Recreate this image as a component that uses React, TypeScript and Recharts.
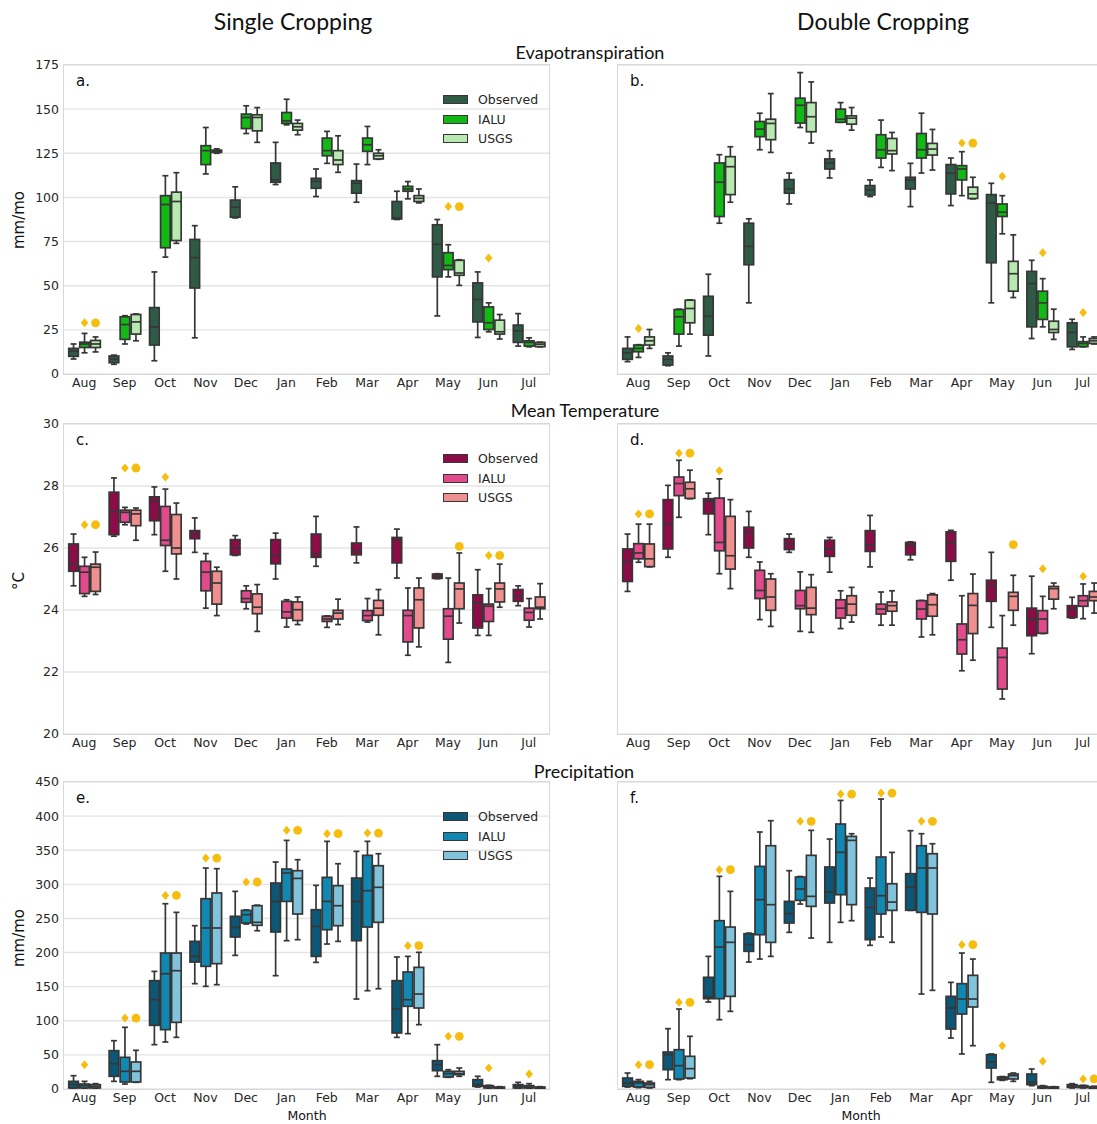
import React from "react";
import { ComposedChart, Bar, XAxis, YAxis, CartesianGrid, Legend } from "recharts";

// each box: [whisker low, q1, median, q3, whisker high]
type Box = [number, number, number, number, number];
type Mark = number | null;

const months = ["Aug", "Sep", "Oct", "Nov", "Dec", "Jan", "Feb", "Mar", "Apr", "May", "Jun", "Jul"];
const seriesNames = ["Observed", "IALU", "USGS"];

// Evapotranspiration (mm/mo), single cropping
const etSingleObs: Box[] = [
  [8.5, 10, 13, 14.5, 17], [5.5, 6.4, 8.3, 10.2, 10.7], [7.5, 16.4, 26.7, 37.6, 57.8],
  [20.5, 48.7, 65.9, 76.2, 84], [88.4, 88.8, 94.5, 98.5, 106], [107.3, 108.6, 110, 119.5, 131.2],
  [100.5, 105.2, 109.1, 110.8, 116.1], [97.3, 102.4, 108, 109.5, 118.9], [87.5, 87.8, 88.5, 97.7, 103.5],
  [32.9, 55, 73.4, 84.5, 87.5], [20.7, 29.5, 42.2, 51.6, 57.8], [15.8, 17.9, 24.5, 27.7, 34.2],
];
const etSingleIalu: Box[] = [
  [12, 15, 17, 18, 23], [17, 19.6, 28, 32.4, 33], [66.2, 71.5, 96, 101, 112.3],
  [113.3, 118.6, 126.5, 129.3, 139.6], [136.2, 139, 145.3, 147.2, 151.9], [141.1, 141.9, 143.4, 148.1, 155.6],
  [119.3, 123.6, 126.5, 133.6, 137.4], [118.6, 126.1, 129.8, 133.6, 140.2], [99.2, 103.5, 104.8, 106.3, 109],
  [55, 59.1, 61.5, 68.7, 73.2], [23.9, 25.2, 29, 38, 40.3], [15.4, 15.8, 17.9, 18.8, 20.5],
];
const etSingleUsgs: Box[] = [
  [12.5, 15, 17, 19, 21], [18.8, 22.6, 29.5, 33.7, 34], [74, 75.6, 97.7, 103, 114],
  [125, 125.5, 126, 126.8, 127.5], [131.2, 137.7, 145.3, 146.8, 150.9], [135.5, 138.1, 140, 141.9, 143.8],
  [114.2, 118.6, 121.2, 126.5, 134.9], [121.6, 121.8, 123.6, 125, 127], [96.9, 97.7, 99.5, 101, 104.8],
  [50.2, 55.9, 57.2, 64.4, 64.7], [19.8, 22.6, 23.9, 30.5, 33.7], [15.4, 15.5, 16.9, 17.9, 18],
];
const etSingleIaluMark: Mark[] = [29, null, null, null, null, null, null, null, null, 94.8, 65.7, null];
const etSingleUsgsMark: Mark[] = [29, null, null, null, null, null, null, null, null, 94.8, null, null];

// Evapotranspiration (mm/mo), double cropping
const etDoubleObs: Box[] = [
  [7, 8.3, 12, 14.5, 21], [4.7, 5.1, 8.3, 10.2, 12], [10.2, 22, 32.7, 44, 56.5],
  [40.3, 61.9, 72.3, 85.4, 87.9], [96.3, 102.4, 104.8, 110.1, 113.8], [111, 116.1, 119.5, 121.8, 126.5],
  [100.5, 101.4, 104.3, 106.7, 109.9], [94.8, 104.8, 109.9, 111.4, 119.3], [95.4, 102, 113.7, 118.6, 122.3],
  [40.3, 63, 96.9, 101.6, 108], [20.1, 26.7, 51.2, 58.1, 64.4], [13.9, 15.4, 23.5, 29, 31],
];
const etDoubleIalu: Box[] = [
  [9.4, 12.6, 14.5, 16.4, 16.6], [15.8, 22.6, 32.4, 36.5, 36.7], [85.4, 89.2, 108.6, 119.5, 124.2],
  [127, 134.4, 138.7, 143, 147.7], [139.6, 142.1, 152.2, 156.2, 170.7], [142.5, 142.6, 144.3, 150, 153.7],
  [117, 122.3, 127, 135.5, 143.8], [113.8, 122.3, 127, 136.2, 147.7], [101, 109.9, 116.1, 118, 125.9],
  [79.4, 89.2, 91.6, 96.3, 101], [26.7, 30.9, 40.3, 46.9, 54], [15.4, 15.5, 17.3, 18.3, 21],
];
const etDoubleUsgs: Box[] = [
  [14.5, 16.4, 18.8, 21, 25.2], [22.6, 29, 37.1, 41.8, 42], [97.3, 101.6, 117.4, 123.1, 128.7],
  [125.5, 132.7, 141.9, 144.3, 158.8], [130.8, 137.2, 145.7, 153.7, 165.4], [138.1, 141.5, 144.9, 146.2, 150.9],
  [115.2, 124.6, 126.5, 133.4, 136.8], [115.5, 124, 127.4, 130.6, 138.5], [99.2, 99.4, 102, 105.8, 111.4],
  [43.3, 46.9, 56.8, 63.8, 78.8], [19.6, 23.5, 25.2, 29.9, 36.7], [17, 17.3, 18.8, 20.1, 21],
];
const etDoubleIaluMark: Mark[] = [25.8, null, null, null, null, null, null, null, 130.8, 112, 68.7, 34.8];
const etDoubleUsgsMark: Mark[] = [null, null, null, null, null, null, null, null, 130.8, null, null, null];

// Mean temperature (°C), single cropping
const tempSingleObs: Box[] = [
  [24.78, 25.25, 25.49, 26.13, 26.45], [26.38, 26.43, 27.18, 27.8, 28.26], [26.43, 26.88, 27.53, 27.65, 27.97],
  [25.86, 26.3, 26.46, 26.56, 26.97], [25.76, 25.78, 26.0, 26.27, 26.4], [25.0, 25.49, 25.76, 26.27, 26.48],
  [25.41, 25.7, 25.81, 26.45, 27.02], [25.52, 25.78, 25.89, 26.16, 26.68], [25.03, 25.52, 26.27, 26.34, 26.61],
  [25.01, 25.02, 25.09, 25.16, 25.17], [23.18, 23.42, 24.23, 24.49, 25.3], [24.14, 24.28, 24.44, 24.66, 24.78],
];
const tempSingleIalu: Box[] = [
  [24.44, 24.53, 25.22, 25.41, 25.7], [26.75, 26.83, 27.15, 27.22, 27.31], [25.25, 26.08, 26.25, 27.34, 27.9],
  [24.06, 24.62, 25.22, 25.57, 25.82], [24.04, 24.25, 24.37, 24.62, 24.78], [23.45, 23.74, 23.94, 24.28, 24.33],
  [23.44, 23.63, 23.71, 23.8, 23.81], [23.61, 23.66, 23.82, 23.98, 24.37], [22.54, 22.97, 23.82, 23.99, 24.71],
  [22.31, 23.06, 23.8, 24.04, 25.03], [23.18, 23.63, 24.12, 24.19, 24.69], [23.45, 23.67, 23.92, 24.06, 24.37],
];
const tempSingleUsgs: Box[] = [
  [24.5, 24.6, 25.38, 25.48, 25.87], [26.25, 26.72, 27.1, 27.22, 27.29], [25.0, 25.81, 26.0, 27.08, 27.45],
  [23.82, 24.19, 24.87, 25.25, 25.38], [23.31, 23.88, 24.09, 24.52, 24.82], [23.53, 23.66, 24.01, 24.26, 24.42],
  [23.53, 23.71, 23.9, 23.99, 24.35], [23.2, 23.83, 24.06, 24.31, 24.66], [22.81, 23.42, 24.33, 24.71, 25.03],
  [23.58, 24.04, 24.68, 24.87, 25.84], [24.09, 24.26, 24.68, 24.87, 25.48], [23.71, 24.04, 24.09, 24.42, 24.85],
];
const tempSingleIaluMark: Mark[] = [26.75, 28.58, 28.29, null, null, null, null, null, null, null, 25.76, null];
const tempSingleUsgsMark: Mark[] = [26.75, 28.58, null, null, null, null, null, null, null, 26.05, 25.76, null];

// Mean temperature (°C), double cropping
const tempDoubleObs: Box[] = [
  [24.6, 24.92, 25.55, 25.97, 26.45], [25.7, 25.97, 26.77, 27.56, 28.02], [26.43, 27.1, 27.51, 27.59, 27.77],
  [25.7, 26.0, 26.51, 26.67, 27.18], [25.86, 25.95, 26.13, 26.3, 26.45], [25.22, 25.73, 25.97, 26.25, 26.34],
  [25.39, 25.89, 26.09, 26.56, 27.05], [25.62, 25.78, 26.08, 26.18, 26.2], [24.96, 25.57, 26.18, 26.52, 26.57],
  [23.44, 24.28, 24.78, 24.96, 25.86], [22.59, 23.17, 23.71, 24.06, 25.09], [23.74, 23.76, 24.01, 24.14, 24.41],
];
const tempDoubleIalu: Box[] = [
  [25.54, 25.65, 25.84, 26.14, 26.77], [26.99, 27.69, 28.08, 28.29, 28.83], [25.17, 25.91, 26.18, 27.61, 28.23],
  [23.69, 24.37, 24.63, 25.28, 25.55], [23.31, 24.04, 24.14, 24.63, 25.23], [23.4, 23.74, 24.06, 24.33, 24.62],
  [23.51, 23.87, 24.03, 24.19, 24.58], [23.13, 23.71, 24.03, 24.3, 24.31], [22.04, 22.58, 23.04, 23.55, 24.46],
  [21.13, 21.45, 22.47, 22.77, 23.82], [23.24, 23.25, 23.71, 23.98, 24.44], [23.72, 24.12, 24.3, 24.46, 24.84],
];
const tempDoubleUsgs: Box[] = [
  [25.39, 25.4, 25.65, 26.13, 26.77], [27.59, 27.6, 27.91, 28.12, 28.51], [24.69, 25.32, 25.75, 27.02, 27.56],
  [23.47, 23.99, 24.42, 25.0, 25.17], [23.28, 23.85, 24.06, 24.73, 25.14], [23.61, 23.83, 24.19, 24.46, 24.73],
  [23.51, 23.96, 24.14, 24.26, 24.62], [23.2, 23.8, 24.17, 24.49, 24.53], [22.38, 23.24, 24.15, 24.53, 25.16],
  [23.51, 23.99, 24.44, 24.57, 25.12], [24.04, 24.35, 24.69, 24.76, 24.87], [23.9, 24.3, 24.42, 24.6, 24.87],
];
const tempDoubleIaluMark: Mark[] = [27.1, 29.06, 28.49, null, null, null, null, null, null, null, 25.33, 25.09];
const tempDoubleUsgsMark: Mark[] = [27.1, 29.06, null, null, null, null, null, null, null, 26.11, null, null];

// Precipitation (mm/mo), single cropping
const precSingleObs: Box[] = [
  [0.5, 1.5, 6.4, 11.2, 19.5], [11.2, 18.6, 37.1, 56.2, 70.8], [65, 93.3, 130.9, 158.8, 172.4],
  [154.4, 186.1, 194.4, 216.4, 239.4], [195.9, 222.8, 236.9, 253.1, 289.7], [166.1, 230.1, 275, 301.9, 332.7],
  [185.6, 194.4, 238.4, 262.8, 298.5], [131.9, 217.4, 275, 309.2, 348.3], [75.7, 82.1, 117.7, 158.8, 193.5],
  [18.6, 26.9, 35.7, 41.5, 65], [2.9, 3.9, 6.4, 13.7, 18.6], [0.5, 1.5, 3.9, 6.4, 9.8],
];
const precSingleIalu: Box[] = [
  [0.5, 1.5, 4.9, 7.3, 11.2], [7.3, 10.3, 25.9, 46.4, 90.4], [68.9, 87, 169, 199.3, 271.6],
  [150.5, 179.8, 236, 278.9, 323.9], [241.8, 243.3, 255.5, 261.8, 262.5], [217.4, 275, 316.6, 322.4, 364.4],
  [212.5, 233.5, 275, 310.2, 363], [144.1, 237.4, 290.7, 342.5, 363], [81.1, 121.2, 130.9, 171.5, 194.4],
  [17.1, 17.6, 22.5, 25.9, 28.3], [0.8, 1.5, 2.9, 4.9, 5.4], [0.8, 1.5, 2.9, 4.9, 7.8],
];
const precSingleUsgs: Box[] = [
  [0.5, 1.5, 3.9, 6.4, 7.8], [9.8, 10.3, 25.9, 39.6, 56.7], [75.7, 97.7, 173.4, 199.3, 258.9],
  [152.9, 183.7, 236, 287.3, 322.9], [232, 239.9, 244.3, 268.7, 269.5], [218.9, 256.5, 308.7, 320, 336.1],
  [216.4, 239.4, 268.7, 298, 330.2], [147, 244.3, 295.6, 327.3, 344.9], [94.3, 118.7, 139.2, 178.3, 200.3],
  [18.6, 21, 22.5, 25.9, 30.8], [0.5, 1, 1.5, 2.9, 3.4], [0.5, 1, 2, 2.9, 3.4],
];
const precSingleIaluMark: Mark[] = [35.7, 104, 283.8, 338.5, 303.4, 379.1, 374.2, 375.2, 210, 77.2, 30.8, 22];
const precSingleUsgsMark: Mark[] = [null, 104, 283.8, 338.5, 303.4, 379.1, 374.2, 375.2, 210, 77.2, null, null];

// Precipitation (mm/mo), double cropping
const precDoubleObs: Box[] = [
  [2.9, 3.9, 8.8, 16.1, 23.4], [13.7, 28.3, 50.3, 54.2, 88.4], [127.5, 132.4, 134.8, 163.7, 194.4],
  [186.1, 201.8, 211.5, 227.6, 228.5], [229.6, 243.3, 257, 275, 320], [215, 272.6, 288.7, 325.4, 366.4],
  [210.6, 218.9, 266.2, 294.6, 309.2], [261.8, 262, 296, 315.6, 378.6], [74.7, 87.9, 118.7, 135.8, 156.3],
  [9.8, 30.8, 39.6, 50.3, 51.3], [4.9, 6.4, 9.8, 22, 29.3], [1.5, 2.4, 4.9, 6.4, 7.8],
];
const precDoubleIalu: Box[] = [
  [2, 2.9, 8.8, 11.2, 13.7], [13.7, 14.7, 34.2, 57.6, 117.2], [101.6, 132.4, 208.1, 246.7, 311.7],
  [190.5, 226.2, 277.5, 326.3, 376.7], [271.1, 276.5, 293.1, 310.7, 311.5], [244.3, 284.8, 346.9, 388.4, 423],
  [222.8, 256.5, 283.3, 340, 425], [139.2, 258.9, 323.9, 356.6, 374.2], [51.3, 109.9, 131.9, 154.4, 199.3],
  [12.7, 13.7, 16.1, 17.6, 18.2], [1, 1.5, 2.4, 3.9, 4.9], [1.5, 2, 2.9, 4.9, 5.4],
];
const precDoubleUsgs: Box[] = [
  [1.5, 2.4, 6.4, 8.8, 11.2], [15.1, 16.1, 29.8, 47.9, 77.2], [113.8, 135.8, 215, 237.4, 289.7],
  [194.4, 214.9, 270.2, 356.6, 393.3], [221.3, 267.7, 282.4, 342.5, 379.1], [246.7, 270.2, 364.4, 370.3, 374.2],
  [215, 261.8, 274, 300.9, 346.8], [144.6, 256.5, 323.9, 344.9, 359.5], [63.5, 120.2, 131.9, 166.6, 190.5],
  [11.2, 14.7, 19.5, 22, 23.4], [0.5, 1, 2, 3, 3.4], [0.5, 1, 2, 3.4, 4],
];
const precDoubleIaluMark: Mark[] = [35.7, 127, 321.4, null, 392.3, 432.3, 433.8, 392.3, 211.5, 63.5, 40.5, 14.7];
const precDoubleUsgsMark: Mark[] = [35.7, 127, 321.4, null, 392.3, 432.3, 433.8, 392.3, 211.5, null, null, 14.7];

const etTicks = [0, 25, 50, 75, 100, 125, 150, 175];
const tempTicks = [20, 22, 24, 26, 28, 30];
const precTicks = [0, 50, 100, 150, 200, 250, 300, 350, 400, 450];

const etColors = ["#2f5b46", "#12b814", "#b7e9b0"];
const tempColors = ["#8b0c47", "#e24b8b", "#f08f8f"];
const precColors = ["#0b5775", "#1088b1", "#80c3db"];

const EDGE = "#363636";
const MARK = "#f7bd0e";
const AXIS_FONT = "'DejaVu Sans', sans-serif";
const TITLE_FONT = "Lato, 'Open Sans', sans-serif";

const PLOT_W = 485;
const Y_W = 60;
const TOP_PAD = 12;
const X_H = 30;

type Row = {
  month: string;
  obs: Box;
  ialu: Box;
  usgs: Box;
  ialuMark: Mark;
  usgsMark: Mark;
};

const buildRows = (obs: Box[], ialu: Box[], usgs: Box[], ialuMark: Mark[], usgsMark: Mark[]): Row[] =>
  months.map((month, i) => ({
    month,
    obs: obs[i],
    ialu: ialu[i],
    usgs: usgs[i],
    ialuMark: ialuMark[i],
    usgsMark: usgsMark[i],
  }));

// box-and-whisker drawn inside the bar's [low, high] extent
const BoxShape = (props: any) => {
  const { x, y, width, height, payload, field, fill, marker } = props;
  const s: Box = payload[field];
  const [lo, q1, med, q3, hi] = s;
  const k = height / (hi - lo);
  const py = (v: number) => y + (hi - v) * k;
  const cx = x + width / 2;
  const capW = width * 0.27;
  const lw = 1.7;
  const markVal: Mark = marker ? payload[marker] : null;
  return (
    <g>
      <line x1={cx} x2={cx} y1={py(hi)} y2={py(q3)} stroke={EDGE} strokeWidth={lw} />
      <line x1={cx} x2={cx} y1={py(q1)} y2={py(lo)} stroke={EDGE} strokeWidth={lw} />
      <line x1={cx - capW} x2={cx + capW} y1={py(hi)} y2={py(hi)} stroke={EDGE} strokeWidth={lw} />
      <line x1={cx - capW} x2={cx + capW} y1={py(lo)} y2={py(lo)} stroke={EDGE} strokeWidth={lw} />
      <rect x={x + 0.7} y={py(q3)} width={width - 1.4} height={Math.max(py(q1) - py(q3), 0.5)} fill={fill} stroke={EDGE} strokeWidth={lw} />
      <line x1={x + 0.7} x2={x + width - 0.7} y1={py(med)} y2={py(med)} stroke={EDGE} strokeWidth={lw} />
      {markVal != null && marker === "ialuMark" && (
        <polygon
          points={`${cx},${py(markVal) - 4.5} ${cx + 3.8},${py(markVal)} ${cx},${py(markVal) + 4.5} ${cx - 3.8},${py(markVal)}`}
          fill={MARK}
        />
      )}
      {markVal != null && marker === "usgsMark" && <circle cx={cx} cy={py(markVal)} r={4.4} fill={MARK} />}
    </g>
  );
};

const LegendBox = ({ colors }: { colors: string[] }) => (
  <div style={{ fontFamily: AXIS_FONT, fontSize: 12.5, color: "#262626" }}>
    {seriesNames.map((name, i) => (
      <div key={name} style={{ display: "flex", alignItems: "center", height: 19.5 }}>
        <span
          style={{
            display: "inline-block",
            width: 25,
            height: 9,
            background: colors[i],
            border: `1px solid ${EDGE}`,
            boxSizing: "border-box",
          }}
        />
        <span style={{ marginLeft: 10 }}>{name}</span>
      </div>
    ))}
  </div>
);

type PanelProps = {
  left: number;
  top: number;
  plotH: number;
  rows: Row[];
  colors: string[];
  ticks: number[];
  letter: string;
  yTicks: boolean;
  legend: boolean;
};

const Panel = ({ left, top, plotH, rows, colors, ticks, letter, yTicks, legend }: PanelProps) => {
  const domain: [number, number] = [ticks[0], ticks[ticks.length - 1]];
  const keys: (keyof Row)[] = ["obs", "ialu", "usgs"];
  const markers = [undefined, "ialuMark", "usgsMark"];
  return (
    <>
      <div style={{ position: "absolute", left: left - Y_W, top: top - TOP_PAD }}>
        <ComposedChart
          width={Y_W + PLOT_W + 10}
          height={TOP_PAD + plotH + X_H}
          data={rows}
          margin={{ top: TOP_PAD, right: 10, left: 0, bottom: 0 }}
          barCategoryGap="10%"
          barGap={0}
        >
          <CartesianGrid vertical={false} stroke="#e4e4e4" strokeWidth={1.4} />
          <XAxis
            dataKey="month"
            interval={0}
            tickLine={false}
            axisLine={false}
            tickSize={0}
            tickMargin={4}
            height={X_H}
            tick={{ fontSize: 12.5, fill: "#262626", fontFamily: AXIS_FONT }}
          />
          <YAxis
            width={Y_W}
            domain={domain}
            ticks={ticks}
            interval={0}
            tickLine={false}
            axisLine={false}
            tickSize={0}
            tickMargin={5}
            tick={yTicks ? { fontSize: 12.5, fill: "#262626", fontFamily: AXIS_FONT } : false}
          />
          {legend && (
            <Legend
              layout="vertical"
              align="center"
              verticalAlign="middle"
              content={() => <LegendBox colors={colors} />}
              wrapperStyle={{ left: Y_W + 379, top: TOP_PAD + 25, width: 110, height: 60 }}
            />
          )}
          {keys.map((key, i) => (
            <Bar
              key={key}
              name={seriesNames[i]}
              dataKey={(d: Row) => [(d[key] as Box)[0], (d[key] as Box)[4]]}
              fill={colors[i]}
              isAnimationActive={false}
              shape={(p: any) => <BoxShape {...p} field={key} fill={colors[i]} marker={markers[i]} />}
            />
          ))}
        </ComposedChart>
      </div>
      <div
        style={{
          position: "absolute",
          left: left - 1,
          top: top - 1,
          width: PLOT_W + 2,
          height: plotH + 2,
          border: "1.4px solid #d9d9d9",
          boxSizing: "border-box",
          pointerEvents: "none",
        }}
      />
      <div
        style={{
          position: "absolute",
          left: left + 12,
          top: top + 7,
          fontFamily: AXIS_FONT,
          fontSize: 15,
          color: "#111",
        }}
      >
        {letter}
      </div>
    </>
  );
};

const textAt = (text: string, x: number, y: number, size: number, font: string, rotate = false) => (
  <div
    style={{
      position: "absolute",
      left: x,
      top: y,
      transform: `translate(-50%, -50%)${rotate ? " rotate(-90deg)" : ""}`,
      fontFamily: font,
      fontSize: size,
      color: "#111",
      whiteSpace: "nowrap",
      lineHeight: 1,
    }}
  >
    {text}
  </div>
);

const App: React.FC = () => {
  const L1 = 64;
  const L2 = 618;
  return (
    <div
      style={{
        position: "absolute",
        left: 0,
        top: 0,
        width: 1097,
        height: 1124,
        overflow: "hidden",
        background: "#fff",
      }}
    >
      {textAt("Single Cropping", 293, 21, 23, TITLE_FONT)}
      {textAt("Double Cropping", 883, 21, 23, TITLE_FONT)}
      {textAt("Evapotranspiration", 590, 52, 18, TITLE_FONT)}
      {textAt("Mean Temperature", 585, 410, 18, TITLE_FONT)}
      {textAt("Precipitation", 584, 771, 18, TITLE_FONT)}
      {textAt("mm/mo", 19, 220, 15, AXIS_FONT, true)}
      {textAt("°C", 19, 581, 15, AXIS_FONT, true)}
      {textAt("mm/mo", 19, 938, 15, AXIS_FONT, true)}
      {textAt("Month", 307, 1116, 12.5, AXIS_FONT)}
      {textAt("Month", 861, 1116, 12.5, AXIS_FONT)}

      <Panel left={L1} top={65} plotH={309} ticks={etTicks} colors={etColors} letter="a." yTicks legend
        rows={buildRows(etSingleObs, etSingleIalu, etSingleUsgs, etSingleIaluMark, etSingleUsgsMark)} />
      <Panel left={L2} top={65} plotH={309} ticks={etTicks} colors={etColors} letter="b." yTicks={false} legend={false}
        rows={buildRows(etDoubleObs, etDoubleIalu, etDoubleUsgs, etDoubleIaluMark, etDoubleUsgsMark)} />
      <Panel left={L1} top={424} plotH={310} ticks={tempTicks} colors={tempColors} letter="c." yTicks legend
        rows={buildRows(tempSingleObs, tempSingleIalu, tempSingleUsgs, tempSingleIaluMark, tempSingleUsgsMark)} />
      <Panel left={L2} top={424} plotH={310} ticks={tempTicks} colors={tempColors} letter="d." yTicks={false} legend={false}
        rows={buildRows(tempDoubleObs, tempDoubleIalu, tempDoubleUsgs, tempDoubleIaluMark, tempDoubleUsgsMark)} />
      <Panel left={L1} top={782} plotH={307} ticks={precTicks} colors={precColors} letter="e." yTicks legend
        rows={buildRows(precSingleObs, precSingleIalu, precSingleUsgs, precSingleIaluMark, precSingleUsgsMark)} />
      <Panel left={L2} top={782} plotH={307} ticks={precTicks} colors={precColors} letter="f." yTicks={false} legend={false}
        rows={buildRows(precDoubleObs, precDoubleIalu, precDoubleUsgs, precDoubleIaluMark, precDoubleUsgsMark)} />
    </div>
  );
};

export default App;
